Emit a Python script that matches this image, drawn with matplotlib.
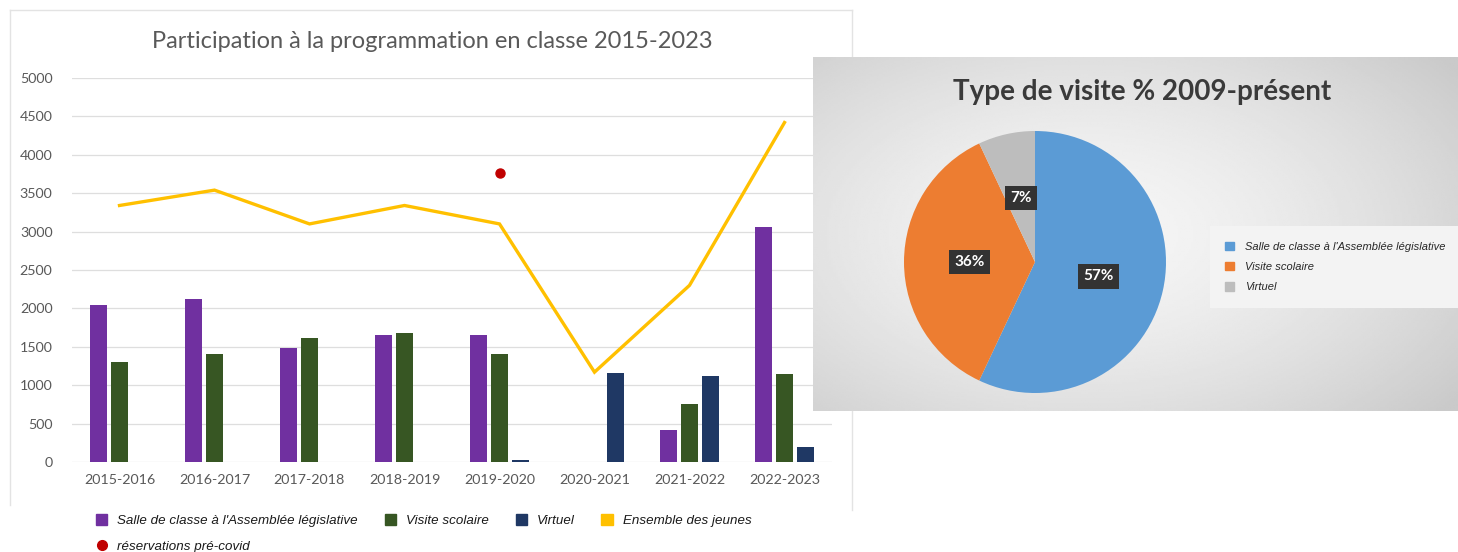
import numpy as np
import matplotlib.pyplot as plt
from matplotlib.patches import Patch, Rectangle
from matplotlib.lines import Line2D

# Data - bar/line chart
years = ['2015-2016', '2016-2017', '2017-2018', '2018-2019',
         '2019-2020', '2020-2021', '2021-2022', '2022-2023']
salle_classe = [2040, 2120, 1480, 1650, 1660, 0, 420, 3060]
visite_scolaire = [1300, 1410, 1610, 1680, 1400, 0, 750, 1140]
virtuel = [0, 0, 0, 0, 30, 1160, 1120, 190]
ensemble_jeunes = [3340, 3540, 3100, 3340, 3100, 1170, 2300, 4420]
precovid_year = '2019-2020'
precovid_value = 3760

# Data - pie chart
pie_labels = ["Salle de classe à l'Assemblée législative", 'Visite scolaire', 'Virtuel']
pie_values = [57, 36, 7]

W, H = 1458, 552
fig = plt.figure(figsize=(W / 100, H / 100), dpi=100)
fig.patch.set_facecolor('white')


def px_axes(x0, y0, x1, y1):
    # axes from pixel box (top-left origin)
    return fig.add_axes([x0 / W, 1 - y1 / H, (x1 - x0) / W, (y1 - y0) / H])


# Left panel border (kept under everything else)
for xs, ys in [((10, 852), (10, 10)), ((10, 10), (10, 505)), ((852, 852), (10, 510))]:
    fig.add_artist(Line2D([xs[0] / W, xs[1] / W], [1 - ys[0] / H, 1 - ys[1] / H],
                          transform=fig.transFigure, color='#e3e3e3', lw=1, zorder=-5))

# Bar / line chart
ax = px_axes(72, 78, 832, 462)
x = np.arange(len(years))
w = 0.18
ax.bar(x - 0.22, salle_classe, w, color='#7030A0', zorder=3)
ax.bar(x, visite_scolaire, w, color='#375623', zorder=3)
ax.bar(x + 0.22, virtuel, w, color='#1F3864', zorder=3)
ax.plot(x, ensemble_jeunes, color='#FFC000', lw=2.4, zorder=4, solid_joinstyle='miter')
ax.plot(years.index(precovid_year), precovid_value, 'o', color='#C00000', ms=6.5, zorder=5)

ax.set_xlim(-0.5, len(years) - 0.5)
ax.set_ylim(0, 5000)
ax.set_yticks(np.arange(0, 5001, 500))
ax.set_xticks(x)
ax.set_xticklabels(years)
ax.grid(axis='y', color='#dedede', lw=0.9, zorder=0)
for s in ax.spines.values():
    s.set_visible(False)
ax.tick_params(length=0, labelsize=10.3, labelcolor='#595959')
ax.tick_params(axis='y', pad=14)
ax.tick_params(axis='x', pad=9)
for lab in ax.get_xticklabels() + ax.get_yticklabels():
    lab.set_family('Lato')
ax.set_facecolor('none')

fig.text(432 / W, 1 - 42 / H, 'Participation à la programmation en classe 2015-2023',
         ha='center', va='center', fontsize=17, color='#595959', family='Lato')

handles = [Patch(color='#7030A0'),
           Line2D([], [], marker='o', ls='none', color='#C00000', ms=7),
           Patch(color='#375623'), Patch(color='#1F3864'), Patch(color='#FFC000')]
labels = ["Salle de classe à l'Assemblée législative", 'réservations pré-covid',
          'Visite scolaire', 'Virtuel', 'Ensemble des jeunes']
fig.legend(handles, labels, ncol=4, loc='upper left',
           bbox_to_anchor=(84 / W, 1 - 502 / H), frameon=False,
           prop={'family': 'Liberation Sans', 'style': 'italic', 'size': 9.6},
           handlelength=0.85, handleheight=0.85, handletextpad=0.75,
           columnspacing=2.0, labelspacing=0.95, labelcolor='#1a1a1a')

# Pie panel background with soft gradient
bg = px_axes(813, 57, 1458, 411)
yy, xx = np.mgrid[0:1:200j, 0:1:300j]
r = np.sqrt(((xx - 0.42) / 0.8) ** 2 + ((yy - 0.5) / 0.85) ** 2)
shade = np.clip(0.965 - 0.2 * r ** 1.5, 0.79, 0.965)
bg.imshow(shade, cmap='gray', vmin=0, vmax=1, extent=(0, 1, 0, 1), aspect='auto')
bg.set_axis_off()

bg.text(0.51, 0.9, 'Type de visite % 2009-présent', transform=bg.transAxes,
        ha='center', va='center', fontsize=20, fontweight='bold',
        color='#3a3a3a', family='Lato')

pie_ax = px_axes(904, 131, 1166, 393)
wedges, texts, autotexts = pie_ax.pie(
    pie_values, colors=['#5B9BD5', '#ED7D31', '#BDBDBD'], startangle=90,
    counterclock=False, autopct=lambda p: f'{p:.0f}%', pctdistance=0.5,
    wedgeprops={'linewidth': 0})
for t in autotexts:
    t.set_color('white')
    t.set_fontsize(11)
    t.set_family('Lato')
    t.set_fontweight('bold')
    t.set_bbox(dict(boxstyle='square,pad=0.35', fc='#333333', ec='none'))
pie_ax.set_xlim(-1, 1)
pie_ax.set_ylim(-1, 1)
pie_ax.set_aspect('equal')

leg_ax = px_axes(1210, 226, 1458, 308)
leg_ax.add_patch(Rectangle((0, 0), 1, 1, transform=leg_ax.transAxes,
                           fc='#f3f3f3', ec='none'))
leg_ax.set_axis_off()
leg_ax.legend([Patch(color=c) for c in ['#5B9BD5', '#ED7D31', '#BDBDBD']], pie_labels,
              loc='center left', bbox_to_anchor=(0.02, 0.5), frameon=False,
              prop={'family': 'Liberation Sans', 'style': 'italic', 'size': 8},
              handlelength=0.8, handleheight=0.8, handletextpad=1.0,
              labelspacing=0.9, labelcolor='#262626')

fig.savefig('out.png', dpi=100)
